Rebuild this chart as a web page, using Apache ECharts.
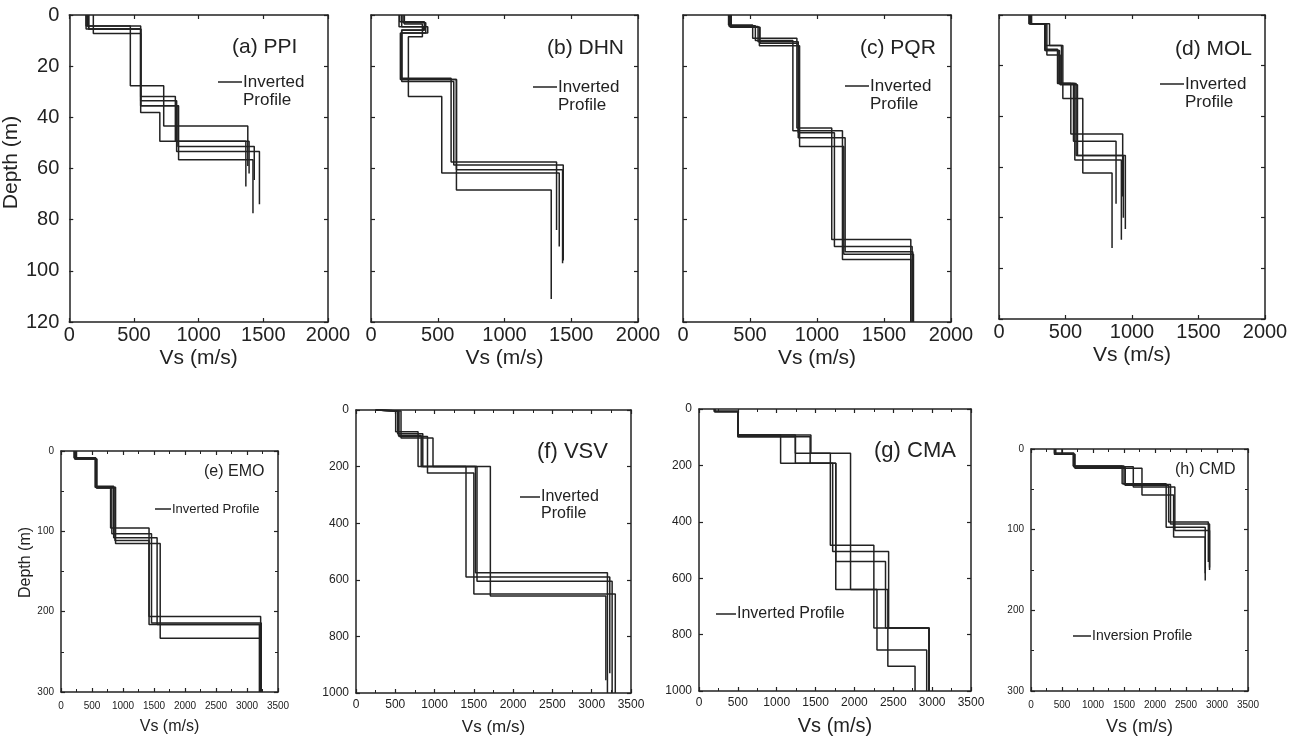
<!DOCTYPE html>
<html>
<head>
<meta charset="utf-8">
<script src="https://cdn.jsdelivr.net/npm/echarts@6/dist/echarts.min.js"></script>
<style>
  html, body { margin: 0; padding: 0; background: #fff; }
  #chart { width: 1302px; height: 737px; }
</style>
</head>
<body>
<div id="chart"></div>
<script>
// Vs of each layer (m/s) and the depth of its base (m); last depth = end of profile
const ppiVs = [[130, 472, 730, 1380], [150, 552, 820, 1365], [186, 552, 840, 1430], [140, 552, 700, 1390], [130, 552, 830, 1470], [150, 552, 845, 1420]];
const ppiDepth = [[4.3, 27.7, 43.4, 59], [5.5, 31.9, 49.3, 67], [7.2, 35.5, 51.4, 64.5], [4.3, 38.1, 49.3, 62], [5.5, 33.5, 53.4, 74], [5.5, 35.5, 56.6, 77.5]];

const dhnVs = [[215, 400, 230, 600, 1390], [230, 425, 220, 640, 1435], [250, 385, 280, 530, 1410], [210, 395, 230, 620, 1440], [240, 410, 230, 640, 1350]];
const dhnDepth = [[2.6, 6.0, 24.7, 57.5, 84], [4.6, 7.0, 25.2, 60.5, 97], [3.5, 8.5, 31.9, 61.8, 90.5], [4.6, 5.9, 26.0, 58.6, 96], [3.0, 7.0, 25.2, 68.4, 111]];

const pqrVs = [[340, 520, 850, 1110, 1700], [345, 560, 860, 1130, 1710], [360, 570, 870, 1200, 1720], [350, 540, 820, 1190, 1700], [355, 575, 860, 1210, 1715]];
const pqrDepth = [[3.9, 9.1, 44.2, 87.8, 120], [4.5, 10.5, 46, 90.5, 120], [4.8, 12, 51.4, 93.5, 120], [4.2, 10, 45.2, 95.6, 120], [4.8, 11, 48, 92.5, 120]];

const molVs = [[230, 345, 450, 540, 930], [240, 350, 470, 560, 880], [225, 360, 460, 590, 950], [235, 345, 440, 570, 920], [245, 380, 480, 630, 850], [230, 350, 455, 580, 935]];
const molDepth = [[3.5, 14, 27, 47, 71.6], [3.5, 12, 27, 49.8, 74.5], [3.5, 15.8, 27.5, 55.5, 84.5], [3.5, 13.5, 27, 57.2, 88.7], [3.5, 12, 33, 62.4, 92], [3.5, 14, 27, 55.5, 80]];

const emoVs = [[210, 550, 800, 1420, 3220], [230, 570, 820, 1460, 3230], [250, 560, 850, 1550, 3200], [220, 580, 870, 1420, 3210], [240, 565, 880, 1600, 3230]];
const emoDepth = [[8.5, 45, 96, 206, 300], [10, 46, 103, 214, 300], [8.5, 44, 108, 216, 300], [10, 46, 111.5, 216, 300], [9.5, 45, 115, 233, 300]];

const vsvVs = [[250, 505, 790, 1400, 3230], [250, 530, 850, 1520, 3200], [250, 547, 910, 1500, 3300], [250, 573, 980, 1710, 3180], [250, 540, 830, 1540, 3260]];
const vsvDepth = [[3.5, 77, 200, 590, 930], [3.5, 84, 200, 575, 1000], [3.5, 94, 223, 650, 1000], [3.5, 99, 200, 657, 955], [3.5, 90, 200, 605, 1000]];

const cmaVs = [[200, 500, 1440, 1690, 2250, 2960], [200, 500, 1240, 1720, 2440, 2960], [200, 500, 1050, 1760, 2430, 2780], [200, 500, 1430, 1760, 2400, 2960], [200, 500, 1240, 1950, 2290, 2930]];
const cmaDepth = [[9, 92, 157, 483, 777, 1000], [9, 98, 192, 505, 777, 1000], [9, 92, 192, 640, 912, 1000], [9, 98, 192, 541, 777, 1000], [9, 92, 157, 640, 855, 1000]];

const cmdVs = [[380, 680, 1470, 2180, 2810], [500, 700, 1520, 2220, 2860], [380, 690, 1650, 2320, 2880], [400, 710, 1790, 2300, 2810], [380, 690, 1500, 2250, 2880]];
const cmdDepth = [[6.6, 21, 43, 97, 163], [6.6, 23, 45, 90.5, 140], [5, 22, 47, 101, 150], [6.6, 24, 57, 109, 154], [6.6, 21, 44, 93, 147]];

const FONT = '"Liberation Sans", Arial, sans-serif';
const INK = '#222';

const panels = [
  { title: '(a) PPI', vs: ppiVs, depth: ppiDepth, grid: [60, 15, 268, 307], xMax: 2000, xInt: 500, yMax: 120, yInt: 20, tickFs: 20, nameFs: 21, xMargin: 3, xGap: 26, yLabels: true, yName: 'Depth (m)', yGap: 33, yShift: 12, minor: false,
    titlePos: [232, 47, 21], leg: { text: 'Inverted\nProfile', x: 218, y: 82, fs: 17, w: 24, lines: 2 } },
  { title: '(b) DHN', vs: dhnVs, depth: dhnDepth, grid: [371, 15, 267, 307], xMax: 2000, xInt: 500, yMax: 120, yInt: 20, tickFs: 20, nameFs: 21, xMargin: 3, xGap: 26, yLabels: false, minor: false,
    titlePos: [547, 48, 21], leg: { text: 'Inverted\nProfile', x: 533, y: 87, fs: 17, w: 24, lines: 2 } },
  { title: '(c) PQR', vs: pqrVs, depth: pqrDepth, grid: [683, 15, 268, 307], xMax: 2000, xInt: 500, yMax: 120, yInt: 20, tickFs: 20, nameFs: 21, xMargin: 3, xGap: 26, yLabels: false, minor: false,
    titlePos: [860, 48, 21], leg: { text: 'Inverted\nProfile', x: 845, y: 86, fs: 17, w: 24, lines: 2 } },
  { title: '(d) MOL', vs: molVs, depth: molDepth, grid: [999, 15, 266, 304], xMax: 2000, xInt: 500, yMax: 120, yInt: 20, tickFs: 20, nameFs: 21, xMargin: 3, xGap: 26, yLabels: false, minor: false,
    titlePos: [1175, 49, 21], leg: { text: 'Inverted\nProfile', x: 1160, y: 84, fs: 17, w: 24, lines: 2 } },
  { title: '(e) EMO', vs: emoVs, depth: emoDepth, grid: [61, 451, 217, 241], xMax: 3500, xInt: 500, yMax: 300, yInt: 100, tickFs: 10, nameFs: 16, xMargin: 9, xGap: 27, yLabels: true, yName: 'Depth (m)', yGap: 26, yShift: 18, minor: true, yMinor: true,
    titlePos: [204, 472, 16], leg: { text: 'Inverted Profile', x: 155, y: 509, fs: 13, w: 16, lines: 1 } },
  { title: '(f) VSV', vs: vsvVs, depth: vsvDepth, grid: [356, 410, 275, 283], xMax: 3500, xInt: 500, yMax: 1000, yInt: 200, tickFs: 12, nameFs: 17, xMargin: 6, xGap: 26, yLabels: true, minor: true, yMinor: false,
    titlePos: [537, 452, 22], leg: { text: 'Inverted\nProfile', x: 520, y: 497, fs: 16, w: 20, lines: 2 } },
  { title: '(g) CMA', vs: cmaVs, depth: cmaDepth, grid: [699, 409, 272, 283], xMax: 3500, xInt: 500, yMax: 1000, yInt: 200, tickFs: 12, nameFs: 20, xMargin: 6, xGap: 25, yLabels: true, minor: true, yMinor: false,
    titlePos: [874, 451, 22], leg: { text: 'Inverted Profile', x: 716, y: 614, fs: 16, w: 20, lines: 1 } },
  { title: '(h) CMD', vs: cmdVs, depth: cmdDepth, grid: [1031, 449, 217, 242], xMax: 3500, xInt: 500, yMax: 300, yInt: 100, tickFs: 10, nameFs: 18, xMargin: 9, xGap: 27, yLabels: true, minor: true, yMinor: true,
    titlePos: [1175, 470, 16], leg: { text: 'Inversion Profile', x: 1073, y: 636, fs: 14, w: 18, lines: 1 } }
];

// turn layer velocities + base depths into a step profile
function stepProfile(vs, depth) {
  const pts = [[vs[0], 0]];
  for (let i = 0; i < vs.length; i++) {
    pts.push([vs[i], depth[i]]);
    if (i + 1 < vs.length) pts.push([vs[i + 1], depth[i]]);
  }
  return pts;
}

const grids = [], xAxes = [], yAxes = [], series = [], titles = [], legends = [];

panels.forEach((p, k) => {
  grids.push({ left: p.grid[0], top: p.grid[1], width: p.grid[2], height: p.grid[3], containLabel: false });
  const seriesName = p.leg.text.replace('\n', ' ');
  const tick = { show: true, inside: true, length: 4, lineStyle: { color: INK, width: 1.2 } };
  const minorTick = { show: true, splitNumber: 2, length: 3, lineStyle: { color: INK, width: 1 } };
  const axisLine = { show: true, onZero: false, lineStyle: { color: INK, width: 1.5 } };
  const label = { fontSize: p.tickFs, color: INK, fontFamily: FONT, formatter: v => String(v) };
  // bottom + top x axes
  xAxes.push({
    type: 'value', gridIndex: k, min: 0, max: p.xMax, interval: p.xInt, position: 'bottom',
    name: 'Vs (m/s)', nameLocation: 'middle', nameGap: p.xGap,
    nameTextStyle: { fontSize: p.nameFs, color: INK, fontFamily: FONT },
    axisLine, axisTick: tick, minorTick: p.minor ? minorTick : { show: false },
    axisLabel: Object.assign({ margin: p.xMargin }, label), splitLine: { show: false }
  });
  xAxes.push({
    type: 'value', gridIndex: k, min: 0, max: p.xMax, interval: p.xInt, position: 'top',
    axisLine, axisTick: tick, minorTick: p.minor ? minorTick : { show: false },
    axisLabel: { show: false }, splitLine: { show: false }
  });
  // left + right y axes (depth downwards)
  yAxes.push({
    type: 'value', gridIndex: k, min: 0, max: p.yMax, interval: p.yInt, inverse: true, position: 'left',
    name: p.yName || '', nameLocation: 'middle', nameGap: p.yGap || 26,
    nameTextStyle: { fontSize: p.nameFs, color: INK, fontFamily: FONT, padding: [0, 0, 0, p.yShift || 0] },
    axisLine, axisTick: tick, minorTick: p.yMinor ? minorTick : { show: false },
    axisLabel: Object.assign({ show: p.yLabels, margin: k === 0 ? 10 : 7 }, label), splitLine: { show: false }
  });
  yAxes.push({
    type: 'value', gridIndex: k, min: 0, max: p.yMax, interval: p.yInt, inverse: true, position: 'right',
    axisLine, axisTick: tick, minorTick: p.yMinor ? minorTick : { show: false },
    axisLabel: { show: false }, splitLine: { show: false }
  });
  p.vs.forEach((v, j) => {
    series.push({
      type: 'line', name: seriesName, xAxisIndex: 2 * k, yAxisIndex: 2 * k,
      data: stepProfile(v, p.depth[j]), symbol: 'none', color: INK,
      lineStyle: { color: INK, width: 1.5 }, silent: true, animation: false
    });
  });
  titles.push({
    text: p.title, left: p.titlePos[0], top: p.titlePos[1] - p.titlePos[2] / 2, padding: 0,
    textStyle: { fontSize: p.titlePos[2], fontWeight: 'normal', color: INK, fontFamily: FONT }
  });
  const lh = Math.round(p.leg.fs * 1.08);
  const h = lh * p.leg.lines;
  const w = p.leg.w;
  const c = lh / 2;
  legends.push({
    data: [seriesName], left: p.leg.x, top: p.leg.y - lh / 2, padding: 0,
    itemWidth: w, itemHeight: h, symbolKeepAspect: false,
    icon: 'path://M0,0M0,' + (c - 0.75) + 'L' + w + ',' + (c - 0.75) + 'L' + w + ',' + (c + 0.75) + 'L0,' + (c + 0.75) + 'ZM' + w + ',' + h,
    itemStyle: { color: INK, borderWidth: 0 },
    formatter: () => p.leg.text, selectedMode: false,
    textStyle: { fontSize: p.leg.fs, lineHeight: lh, color: INK, fontFamily: FONT, padding: [0, 0, 0, -4] }
  });
});

const chart = echarts.init(document.getElementById('chart'), null, { renderer: 'canvas' });
chart.setOption({
  backgroundColor: '#fff',
  animation: false,
  title: titles,
  legend: legends,
  grid: grids,
  xAxis: xAxes,
  yAxis: yAxes,
  series: series
});
</script>
</body>
</html>
